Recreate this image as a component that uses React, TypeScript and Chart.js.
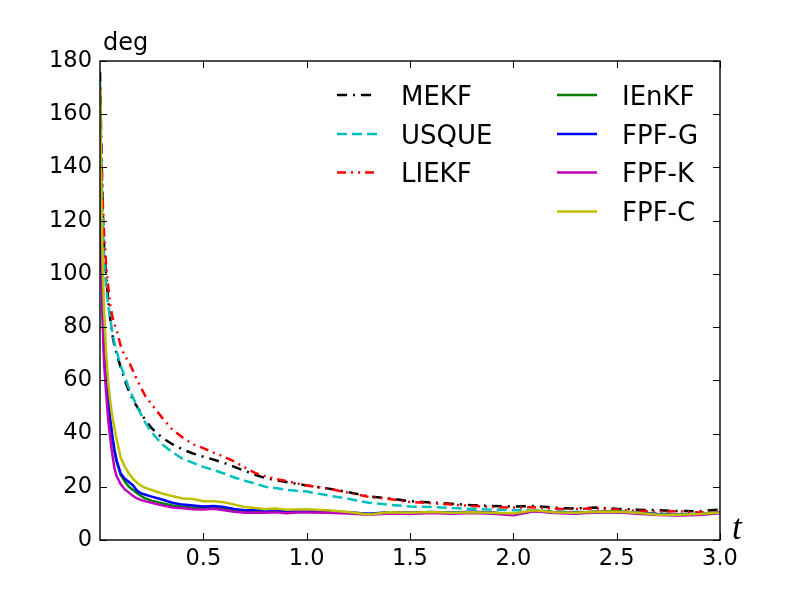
import Chart from 'chart.js/auto';
import { useEffect, useRef } from 'react';

// time grid (s) shared by every series
const tValues = [
    0, 0.005, 0.01, 0.015, 0.02, 0.03, 0.04, 0.05, 0.06, 0.07, 0.08, 0.1, 0.12, 0.14, 0.16, 0.18, 0.2, 0.22, 0.25,
    0.3, 0.35, 0.4, 0.45, 0.5, 0.55, 0.6, 0.65, 0.7, 0.75, 0.8, 0.85, 0.9, 0.95, 1.0,
    1.1, 1.2, 1.3, 1.4, 1.5, 1.6, 1.7, 1.8, 1.9, 2.0, 2.1, 2.2, 2.3, 2.4, 2.5, 2.6, 2.7, 2.8, 2.9, 3.0,
];

// error in degrees
const mekf = [176, 155, 135, 120, 110, 99, 90, 83, 77, 73, 70, 65, 60, 56, 52.5, 50, 47.5, 45, 42, 38.5, 36, 34, 32.5, 31.3, 30.2, 29, 27.5, 26, 24.5, 23.3, 22.5, 21.8, 21.2, 20.5, 19.4, 18, 16.4, 15.6, 14.6, 14.1, 13.6, 13.1, 12.8, 12.6, 12.8, 12.1, 11.8, 12.2, 11.7, 11.4, 11.2, 10.9, 10.8, 11.4];
const usque = [172, 148, 130, 116, 106, 95, 88, 83, 78, 74, 71, 65.5, 61.5, 57, 53.5, 50, 47, 44, 40.5, 36, 33, 30.5, 29, 27.5, 26.3, 25, 23.5, 22.3, 21.2, 20, 19.5, 18.9, 18.5, 18.2, 16.8, 15.5, 14, 13.2, 12.6, 12.4, 12, 11.7, 11.4, 11.2, 11.1, 10.7, 10.5, 10.6, 10.8, 10.3, 10, 9.7, 9.8, 10.3];
const liekf = [170, 150, 135, 124, 115, 103, 95, 88, 84, 81, 79, 73, 69, 67, 63.5, 60, 57, 54, 51, 46, 41.5, 38.5, 36, 34.5, 32.8, 31.3, 29.5, 27.3, 25.2, 24, 23, 22.2, 21.3, 20.5, 19.3, 17.8, 16.2, 15.4, 14.3, 13.8, 13.3, 12.8, 12.4, 12.2, 12.3, 11.7, 11.6, 11.9, 11.4, 11, 10.7, 10.8, 10.3, 10.9];
const ienkf = [165, 128, 100, 82, 71, 60, 51, 44, 38, 33, 29.5, 24.5, 22, 20, 18.8, 17.6, 16.5, 15.6, 14.8, 13.8, 13, 12.5, 12.1, 12, 12.2, 11.7, 11.1, 10.7, 10.8, 10.5, 10.7, 10.4, 10.5, 10.7, 10.5, 10.3, 9.8, 10.3, 10.1, 10.4, 10.2, 10.5, 10.2, 9.5, 11, 10.3, 10.1, 10.5, 10.6, 10.1, 9.6, 9.4, 9.6, 10.3];
const fpfG = [160, 125, 98, 80, 70, 61, 52, 45, 39, 34, 30, 25, 23, 21.8, 20.5, 18.5, 17.5, 17, 16.3, 15.2, 14, 13.3, 13, 12.6, 12.8, 12.4, 11.7, 11.2, 11.3, 11, 11.1, 10.8, 10.9, 10.9, 10.7, 10.4, 9.9, 10.4, 10.2, 10.5, 10.3, 10.6, 10.3, 9.6, 11.1, 10.4, 10.2, 10.6, 10.7, 10.2, 9.7, 9.5, 9.7, 10.4];
const fpfK = [158, 122, 96, 77, 66, 55, 45, 38, 32, 27, 24, 21, 19, 17.8, 16.5, 15.6, 15, 14.5, 14, 13, 12.2, 11.9, 11.6, 11.5, 11.7, 11.2, 10.6, 10.2, 10.3, 10.2, 10.4, 10.1, 10.3, 10.3, 10.2, 10, 9.5, 10, 9.8, 10.1, 9.9, 10.1, 9.9, 9.3, 10.8, 10.1, 9.9, 10.3, 10.4, 9.9, 9.4, 9.2, 9.4, 10.1];
const fpfC = [170, 140, 115, 98, 86, 70, 59, 52, 46, 42, 38, 31, 27.5, 25, 23, 21.5, 20.3, 19.6, 18.8, 17.5, 16.5, 15.6, 15.4, 14.6, 14.6, 14.2, 13.3, 12.4, 12, 11.6, 11.8, 11.4, 11.5, 11.6, 11.2, 10.5, 9.6, 10.4, 10.2, 10.5, 10.2, 10.4, 10.2, 10, 11.2, 10.4, 10.2, 10.6, 10.7, 10.2, 9.5, 9.5, 9.8, 10.3];

const xTicks = [0.5, 1.0, 1.5, 2.0, 2.5, 3.0];
const yTicks = [0, 20, 40, 60, 80, 100, 120, 140, 160, 180];

const seriesList = [
    { label: 'MEKF', values: mekf, color: '#000000', dash: [10, 6, 2, 6] },
    { label: 'USQUE', values: usque, color: '#00bfbf', dash: [10, 5] },
    { label: 'LIEKF', values: liekf, color: '#ff0000', dash: [9, 5, 2, 5, 2, 5] },
    { label: 'IEnKF', values: ienkf, color: '#008000', dash: [] },
    { label: 'FPF-G', values: fpfG, color: '#0000ff', dash: [] },
    { label: 'FPF-K', values: fpfK, color: '#bf00bf', dash: [] },
    { label: 'FPF-C', values: fpfC, color: '#bfbf00', dash: [] },
];

const FONT = '"DejaVu Sans", sans-serif';

// frame, inward ticks, two-column legend and the axis texts (matplotlib look)
const decorPlugin = {
    id: 'decor',
    afterDraw(chart: any) {
        const ctx = chart.ctx;
        const { left, right, top, bottom } = chart.chartArea;
        const xs = chart.scales.x;
        const ys = chart.scales.y;
        const tick = 7;

        ctx.save();
        ctx.strokeStyle = '#000';
        ctx.lineWidth = 1.4;
        ctx.setLineDash([]);
        ctx.strokeRect(left, top, right - left, bottom - top);

        ctx.lineWidth = 1;
        ctx.beginPath();
        xTicks.forEach((v) => {
            const px = Math.round(xs.getPixelForValue(v)) + 0.5;
            ctx.moveTo(px, bottom);
            ctx.lineTo(px, bottom - tick);
            ctx.moveTo(px, top);
            ctx.lineTo(px, top + tick);
        });
        yTicks.forEach((v) => {
            const py = Math.round(ys.getPixelForValue(v)) + 0.5;
            ctx.moveTo(left, py);
            ctx.lineTo(left + tick, py);
            ctx.moveTo(right, py);
            ctx.lineTo(right - tick, py);
        });
        ctx.stroke();

        // legend
        ctx.font = `26px ${FONT}`;
        ctx.textBaseline = 'alphabetic';
        ctx.fillStyle = '#000';
        const rowY = [95, 134, 172.5, 211.5];
        chart.data.datasets.forEach((ds: any, i: number) => {
            const col = i < 3 ? 0 : 1;
            const row = i < 3 ? i : i - 3;
            const x0 = col === 0 ? 337 : 557;
            const tx = col === 0 ? 401 : 622;
            const y = rowY[row];
            ctx.strokeStyle = ds.borderColor;
            ctx.lineWidth = 2.5;
            ctx.setLineDash(ds.borderDash);
            ctx.beginPath();
            ctx.moveTo(x0, y);
            ctx.lineTo(x0 + 40, y);
            ctx.stroke();
            ctx.setLineDash([]);
            ctx.fillText(ds.label, tx, y + 9.5);
        });

        ctx.font = `24px ${FONT}`;
        ctx.fillText('deg', 103, 50);
        ctx.font = 'italic 35px "Liberation Serif", serif';
        ctx.fillText('t', 732, 539);
        ctx.restore();
    },
};

export default function App() {
    const canvasRef = useRef<HTMLCanvasElement>(null);

    useEffect(() => {
        document.body.style.margin = '0';
        const ctx = canvasRef.current?.getContext('2d');
        if (!ctx) return;

        const chart = new Chart(ctx, {
            type: 'line',
            data: {
                datasets: seriesList.map((s, i) => ({
                    label: s.label,
                    data: tValues.map((t, k) => ({ x: t, y: s.values[k] })),
                    borderColor: s.color,
                    backgroundColor: s.color,
                    borderDash: s.dash,
                    borderWidth: 2.5,
                    pointRadius: 0,
                    tension: 0,
                    fill: false,
                    order: seriesList.length - i,
                })),
            },
            options: {
                animation: false,
                responsive: false,
                devicePixelRatio: 1,
                layout: { padding: { top: 61, right: 80, left: 0, bottom: 0 } },
                plugins: { legend: { display: false }, tooltip: { enabled: false } },
                scales: {
                    x: {
                        type: 'linear',
                        min: 0,
                        max: 3,
                        grid: { display: false, drawTicks: false },
                        border: { display: false },
                        afterBuildTicks: (scale: any) => {
                            scale.ticks = xTicks.map((v) => ({ value: v }));
                        },
                        afterFit: (scale: any) => {
                            scale.height = 60;
                        },
                        ticks: {
                            padding: 6,
                            color: '#000',
                            font: { family: FONT, size: 22.5 },
                            maxRotation: 0,
                            callback: (v: any) => Number(v).toFixed(1),
                        },
                    },
                    y: {
                        min: 0,
                        max: 180,
                        grid: { display: false, drawTicks: false },
                        border: { display: false },
                        afterFit: (scale: any) => {
                            scale.width = 100;
                        },
                        ticks: {
                            stepSize: 20,
                            padding: 8,
                            color: '#000',
                            font: { family: FONT, size: 22.5 },
                        },
                    },
                },
            },
            plugins: [decorPlugin],
        });

        return () => {
            chart.destroy();
        };
    }, []);

    return (
        <div style={{ width: 800, height: 600, background: '#fff' }}>
            <canvas ref={canvasRef} width={800} height={600} />
        </div>
    );
}
